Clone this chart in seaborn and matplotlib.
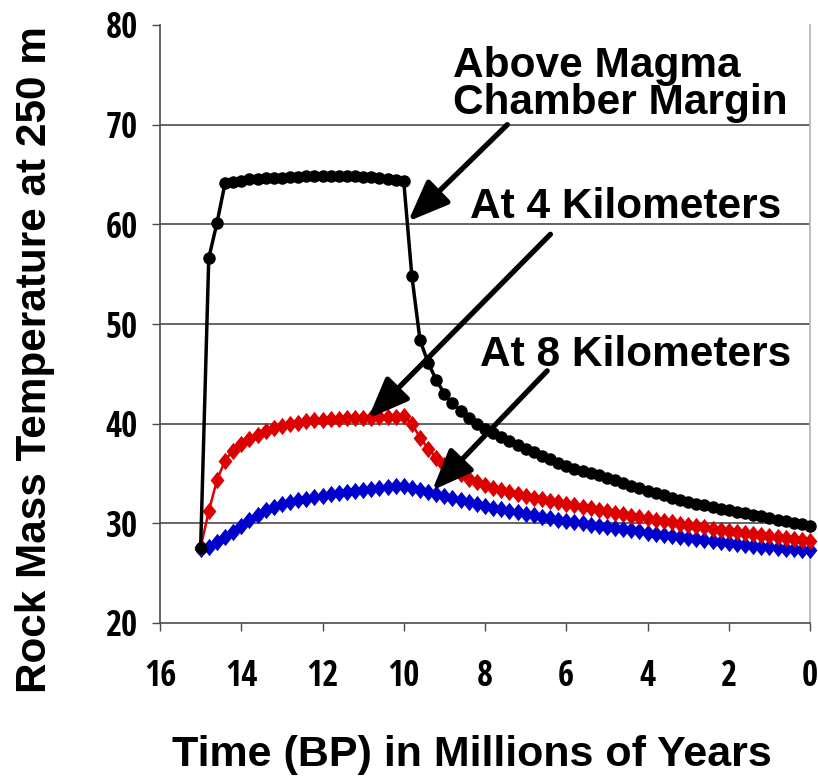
import numpy as np
import pandas as pd
import matplotlib
matplotlib.use("Agg")
import matplotlib.pyplot as plt
from matplotlib import font_manager
from matplotlib.path import Path
from matplotlib.textpath import TextPath
import seaborn as sns

# Time before present (millions of years), one sample every 0.2 Myr
time_bp = [15.0, 14.8, 14.6, 14.4, 14.2, 14.0, 13.8, 13.6, 13.4, 13.2,
           13.0, 12.8, 12.6, 12.4, 12.2, 12.0, 11.8, 11.6, 11.4, 11.2,
           11.0, 10.8, 10.6, 10.4, 10.2, 10.0, 9.8, 9.6, 9.4, 9.2,
           9.0, 8.8, 8.6, 8.4, 8.2, 8.0, 7.8, 7.6, 7.4, 7.2,
           7.0, 6.8, 6.6, 6.4, 6.2, 6.0, 5.8, 5.6, 5.4, 5.2,
           5.0, 4.8, 4.6, 4.4, 4.2, 4.0, 3.8, 3.6, 3.4, 3.2,
           3.0, 2.8, 2.6, 2.4, 2.2, 2.0, 1.8, 1.6, 1.4, 1.2,
           1.0, 0.8, 0.6, 0.4, 0.2, 0.0]

# Rock temperature at 250 m depth (deg C)
temp_margin = [27.5, 56.6, 60.1, 64.1, 64.2, 64.3, 64.5, 64.5, 64.6, 64.6,
               64.6, 64.7, 64.7, 64.8, 64.8, 64.8, 64.8, 64.8, 64.8, 64.8,
               64.7, 64.7, 64.6, 64.5, 64.4, 64.3, 54.8, 48.4, 46.1, 44.4,
               43.0, 42.1, 41.3, 40.6, 40.0, 39.5, 39.1, 38.7, 38.3, 37.9,
               37.5, 37.2, 36.8, 36.5, 36.1, 35.8, 35.5, 35.3, 35.0, 34.8,
               34.5, 34.3, 34.0, 33.7, 33.5, 33.2, 33.0, 32.8, 32.5, 32.3,
               32.1, 31.9, 31.8, 31.6, 31.4, 31.3, 31.1, 31.0, 30.8, 30.7,
               30.5, 30.3, 30.2, 30.0, 29.9, 29.7]

temp_4km = [27.6, 31.2, 34.3, 36.3, 37.3, 38.0, 38.5, 38.9, 39.3, 39.6,
            39.8, 40.0, 40.1, 40.3, 40.4, 40.4, 40.5, 40.5, 40.6, 40.6,
            40.6, 40.6, 40.7, 40.7, 40.7, 40.8, 40.0, 38.6, 37.5, 36.6,
            35.9, 35.3, 34.9, 34.4, 34.1, 33.8, 33.5, 33.3, 33.1, 32.9,
            32.7, 32.55, 32.4, 32.25, 32.1, 31.9, 31.8, 31.6, 31.5, 31.3,
            31.2, 31.0, 30.9, 30.7, 30.6, 30.5, 30.35, 30.2, 30.1, 29.9,
            29.8, 29.7, 29.6, 29.45, 29.3, 29.2, 29.1, 29.0, 28.9, 28.8,
            28.7, 28.6, 28.5, 28.4, 28.3, 28.2]

temp_8km = [27.4, 27.6, 28.1, 28.6, 29.1, 29.7, 30.3, 30.8, 31.3, 31.6,
            31.9, 32.1, 32.3, 32.4, 32.6, 32.7, 32.9, 33.0, 33.1, 33.2,
            33.3, 33.4, 33.5, 33.6, 33.7, 33.7, 33.5, 33.3, 33.1, 32.9,
            32.7, 32.5, 32.3, 32.1, 31.9, 31.7, 31.5, 31.4, 31.2, 31.1,
            30.9, 30.8, 30.6, 30.5, 30.35, 30.2, 30.1, 30.0, 29.85, 29.7,
            29.6, 29.5, 29.4, 29.3, 29.2, 29.05, 28.95, 28.85, 28.75, 28.65,
            28.55, 28.45, 28.35, 28.25, 28.15, 28.05, 27.95, 27.85, 27.75, 27.65,
            27.6, 27.5, 27.45, 27.4, 27.35, 27.3]

x_ticks = [16, 14, 12, 10, 8, 6, 4, 2, 0]
y_ticks = [20, 30, 40, 50, 60, 70, 80]

labels = ["Above Magma", "Chamber Margin", "At 4 Kilometers", "At 8 Kilometers"]

df = pd.DataFrame({"time": time_bp, "margin": temp_margin,
                   "km4": temp_4km, "km8": temp_8km})

sns.set_theme(style="white")


def pick_font(names):
    for name in names:
        try:
            font_manager.findfont(font_manager.FontProperties(family=name),
                                  fallback_to_default=False)
            return name
        except Exception:
            continue
    return "DejaVu Sans"


def weight_value(w):
    if isinstance(w, (int, float)):
        return w
    return font_manager.weight_dict.get(str(w), 400)


SANS_FAMILIES = ("Liberation Sans", "DejaVu Sans", "Noto Sans", "Roboto",
                 "Open Sans", "Lato", "Inter")


def narrow_bold_font():
    """Bold grotesque face with the narrowest digits (not narrower than 0.9)."""
    best, best_ratio = None, None
    for entry in font_manager.fontManager.ttflist:
        name = entry.name
        if not name.startswith(SANS_FAMILIES):
            continue
        if any(k in name for k in ("Serif", "Mono", "CJK", "Math", "Display")):
            continue
        if weight_value(entry.weight) < 650 or entry.style != "normal":
            continue
        try:
            prop = font_manager.FontProperties(fname=entry.fname)
            ext = TextPath((0, 0), "70", prop=prop, size=100).get_extents()
        except Exception:
            continue
        if ext.height <= 0:
            continue
        ratio = ext.width / ext.height
        if ratio < 0.9:
            continue
        if best_ratio is None or ratio < best_ratio:
            best, best_ratio = entry.fname, ratio
    return best, best_ratio


main_font = pick_font(["Liberation Sans", "Arial", "DejaVu Sans"])
plt.rcParams["font.family"] = [main_font, "DejaVu Sans"]
plt.rcParams["font.weight"] = "bold"

tick_fname, tick_ratio = narrow_bold_font()
if tick_fname is not None:
    tick_prop = font_manager.FontProperties(fname=tick_fname)
else:
    tick_prop = font_manager.FontProperties(family=main_font, weight="bold")
    tick_ratio = 1.4
# digits about 25 px tall, limited so that two digits stay near 30 px wide
px_per_pt = 100 / 72
tick_size = min(25 / (0.72 * px_per_pt), 30 / (tick_ratio * 0.72 * px_per_pt))
tick_size = max(tick_size, 17)
tick_prop.set_size(tick_size)

# Excel-style diamond, slightly taller than wide
diamond = Path([(0, 1), (0.8, 0), (0, -1), (-0.8, 0), (0, 1)],
               [Path.MOVETO, Path.LINETO, Path.LINETO, Path.LINETO, Path.CLOSEPOLY])

fig = plt.figure(figsize=(8.18, 7.82), dpi=100)
ax = fig.add_axes([160 / 818, 1 - 623 / 782, 650 / 818, 598 / 782])

sns.lineplot(data=df, x="time", y="km8", ax=ax, color="#0000cc",
             linewidth=1.8, marker=diamond, markersize=12.5,
             markeredgewidth=0, markerfacecolor="#0000cc", clip_on=False,
             zorder=3)
sns.lineplot(data=df, x="time", y="km4", ax=ax, color="#dd0000",
             linewidth=1.8, marker=diamond, markersize=12.5,
             markeredgewidth=0, markerfacecolor="#dd0000", clip_on=False,
             zorder=4)
sns.lineplot(data=df, x="time", y="margin", ax=ax, color="black",
             linewidth=2.5, marker="o", markersize=9.0,
             markeredgewidth=0, markerfacecolor="black", clip_on=False,
             zorder=5)

ax.set_xlim(16, 0)
ax.set_ylim(20, 80)
ax.set_xticks(x_ticks)
ax.set_yticks(y_ticks)
ax.set_xticklabels([str(t) for t in x_ticks])
ax.set_yticklabels([str(t) for t in y_ticks])
ax.set_xlabel("")
ax.set_ylabel("")

grid_color = "#4a4a4a"
for y in y_ticks[1:-1]:
    ax.axhline(y, color=grid_color, linewidth=1.2, zorder=1)

ax.spines["top"].set_visible(False)
ax.spines["left"].set_color(grid_color)
ax.spines["left"].set_linewidth(1.2)
ax.spines["bottom"].set_color(grid_color)
ax.spines["bottom"].set_linewidth(1.2)
ax.spines["right"].set_color("#b4b4b4")
ax.spines["right"].set_linewidth(1.2)

ax.tick_params(axis="both", which="major", direction="out", length=6,
               width=1.0, color=grid_color, left=True, bottom=True)
ax.tick_params(axis="y", pad=10)
ax.tick_params(axis="x", pad=20)
for lab in ax.get_xticklabels() + ax.get_yticklabels():
    lab.set_fontproperties(tick_prop)
    lab.set_color("black")

# Curve labels with arrows pointing at each series
ann_size = 30.5
ax.text(8.78, 74.8, labels[0], fontsize=ann_size, fontweight="bold",
        ha="left", va="baseline", color="black")
ax.text(8.78, 71.1, labels[1], fontsize=ann_size, fontweight="bold",
        ha="left", va="baseline", color="black")
ax.text(8.36, 60.6, labels[2], fontsize=ann_size, fontweight="bold",
        ha="left", va="baseline", color="black")
ax.text(8.12, 45.8, labels[3], fontsize=ann_size, fontweight="bold",
        ha="left", va="baseline", color="black")

arrow_style = dict(arrowstyle="-|>,head_length=25,head_width=10",
                   mutation_scale=1, lw=3.8, color="black",
                   shrinkA=0, shrinkB=0)
ax.annotate("", xy=(9.89, 60.3), xytext=(7.45, 70.0),
            arrowprops=arrow_style, zorder=6)
ax.annotate("", xy=(10.88, 40.5), xytext=(6.39, 59.0),
            arrowprops=arrow_style, zorder=6)
ax.annotate("", xy=(9.3, 33.3), xytext=(6.47, 45.3),
            arrowprops=arrow_style, zorder=6)

fig.text(35 / 818, 1 - 360 / 782, "Rock Mass Temperature at 250 m",
         rotation=90, ha="center", va="center", fontsize=30.4,
         fontweight="bold", color="black")
fig.text(472 / 818, 1 - 755 / 782, "Time (BP) in Millions of Years",
         ha="center", va="center", fontsize=31, fontweight="bold",
         color="black")

fig.savefig("out.png", dpi=100, facecolor="white")
